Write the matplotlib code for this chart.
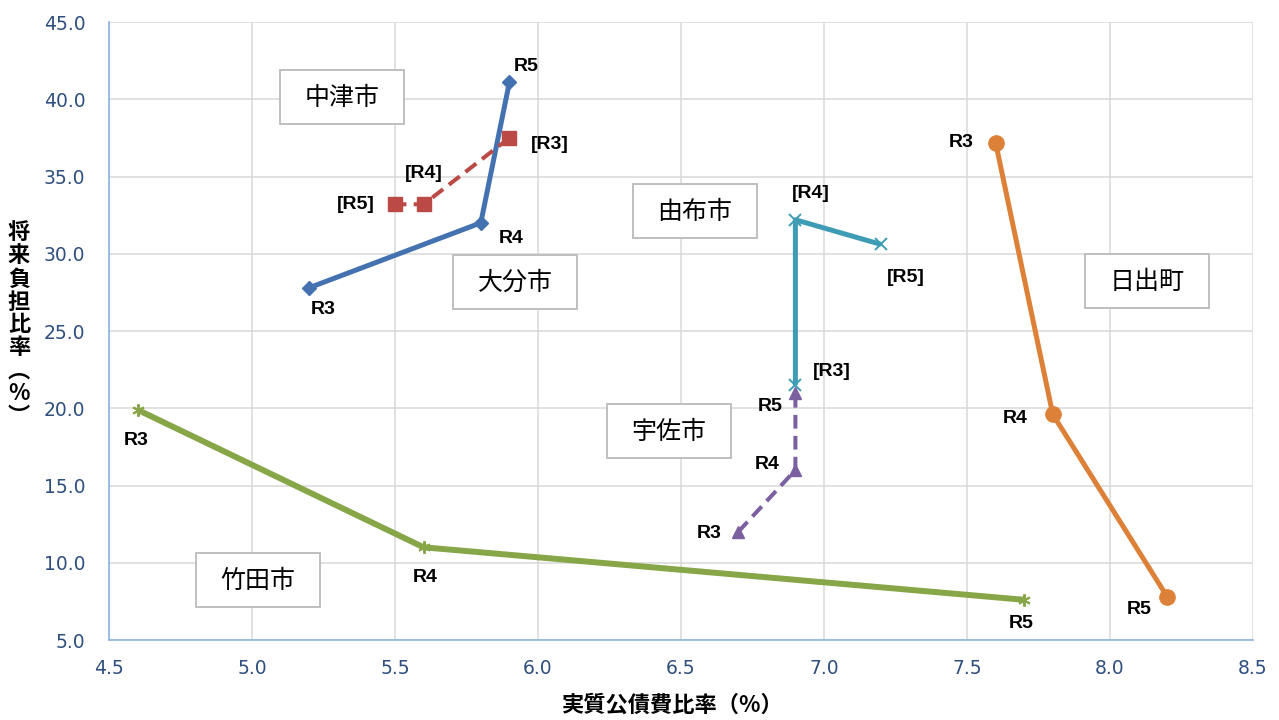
import matplotlib
matplotlib.use("Agg")
import matplotlib.pyplot as plt
from matplotlib.patches import Rectangle

# ---- data ----
years = ["R3", "R4", "R5"]
oita_x = [5.2, 5.8, 5.9]
oita_y = [27.8, 32.0, 41.1]
nakatsu_x = [5.9, 5.6, 5.5]
nakatsu_y = [37.5, 33.2, 33.2]
yufu_x = [6.9, 6.9, 7.2]
yufu_y = [21.5, 32.2, 30.6]
usa_x = [6.7, 6.9, 6.9]
usa_y = [12.0, 16.0, 21.0]
hiji_x = [7.6, 7.8, 8.2]
hiji_y = [37.2, 19.6, 7.8]
taketa_x = [4.6, 5.6, 7.7]
taketa_y = [19.9, 11.0, 7.6]

x_ticks = [4.5, 5.0, 5.5, 6.0, 6.5, 7.0, 7.5, 8.0, 8.5]
y_ticks = [5.0, 10.0, 15.0, 20.0, 25.0, 30.0, 35.0, 40.0, 45.0]

plt.rcParams['font.family'] = ['Noto Sans CJK JP', 'DejaVu Sans']

W, H = 1279, 720
fig = plt.figure(figsize=(12.79, 7.2), dpi=100)
ax = fig.add_axes([109/W, 80/H, (1253-109)/W, (640-22)/H])
ax.set_xlim(4.5, 8.5)
ax.set_ylim(5.0, 45.0)
ax.set_xticks(x_ticks)
ax.set_yticks(y_ticks)
ax.set_xticklabels([f"{v:.1f}" for v in x_ticks], fontsize=13.5, color="#2F4F7F", family="DejaVu Sans")
ax.set_yticklabels([f"{v:.1f}" for v in y_ticks], fontsize=13.5, color="#2F4F7F", family="DejaVu Sans")
ax.tick_params(axis='x', length=0, pad=14)
ax.tick_params(axis='y', length=0, pad=17)
ax.grid(True, color="#D9D9D9", linewidth=1.1)
ax.set_axisbelow(True)
for s in ["top", "right"]:
    ax.spines[s].set_visible(False)
for s in ["left", "bottom"]:
    ax.spines[s].set_color("#8FB3E0")
    ax.spines[s].set_linewidth(1.2)

dash = (0, (3.4, 1.8))
series = [
    (oita_x, oita_y, "#4472B0", "D", 7, "-", 3.6, years, [(10, -16), (22, -11), (12, 11)]),
    (nakatsu_x, nakatsu_y, "#BB4A47", "s", 10, dash, 2.9, ["[R3]", "[R4]", "[R5]"],
     [(29, -5), (0, 22), (-28, 0)]),
    (yufu_x, yufu_y, "#3E9CB5", "x", 8, "-", 3.6, ["[R3]", "[R4]", "[R5]"],
     [(26, 10), (11, 19), (18, -24)]),
    (usa_x, usa_y, "#7B60A0", "^", 9, dash, 2.9, years, [(-21, -1), (-20, 4), (-18, -10)]),
    (hiji_x, hiji_y, "#DD8138", "o", 11, "-", 3.6, years, [(-25, 0), (-27, -3), (-20, -9)]),
    (taketa_x, taketa_y, "#86A648", (6, 2, 0), 9, "-", 4.3, years, [(-1, -22), (1, -22), (-2, -17)]),
]

for xs, ys, col, mk, ms, ls, lw, labs, offs in series:
    ax.plot(xs, ys, color=col, linestyle=ls, linewidth=lw, marker=mk, markersize=ms,
            markerfacecolor=col, markeredgecolor=col,
            markeredgewidth=1.4 if mk in ("x", (6, 2, 0)) else 1,
            solid_capstyle="butt", dash_capstyle="butt", zorder=3)
    for x, y, lab, off in zip(xs, ys, labs, offs):
        ax.annotate(lab, (x, y), xytext=off, textcoords="offset points",
                    ha="center", va="center", fontsize=14, fontweight="bold",
                    family="Liberation Sans", color="#000000", zorder=5)

# city name boxes (centres in figure pixels)
boxes = [("中津市", 342, 97), ("大分市", 515, 282), ("由布市", 695, 211),
         ("宇佐市", 669, 431), ("日出町", 1147, 281), ("竹田市", 258, 580)]
bw, bh = 124, 54
for name, cx, cy in boxes:
    fig.add_artist(Rectangle(((cx - bw/2)/W, 1 - (cy + bh/2)/H), bw/W, bh/H,
                             transform=fig.transFigure, facecolor="white",
                             edgecolor="#BFBFBF", linewidth=1.4, zorder=6))
    fig.text(cx/W, 1 - (cy + 1)/H, name, ha="center", va="center", fontsize=18,
             color="#000000", zorder=7)

fig.text(672/W, 1 - 705/H, "実質公債費比率（%）", ha="center", va="center",
         fontsize=16, fontweight="bold")
ylab = "将来負担比率︵%︶"
fig.text(19/W, 1 - 325/H, "\n".join(ylab), ha="center", va="center",
         fontsize=16, fontweight="bold", linespacing=1.0)

fig.savefig("out.png", dpi=100)
